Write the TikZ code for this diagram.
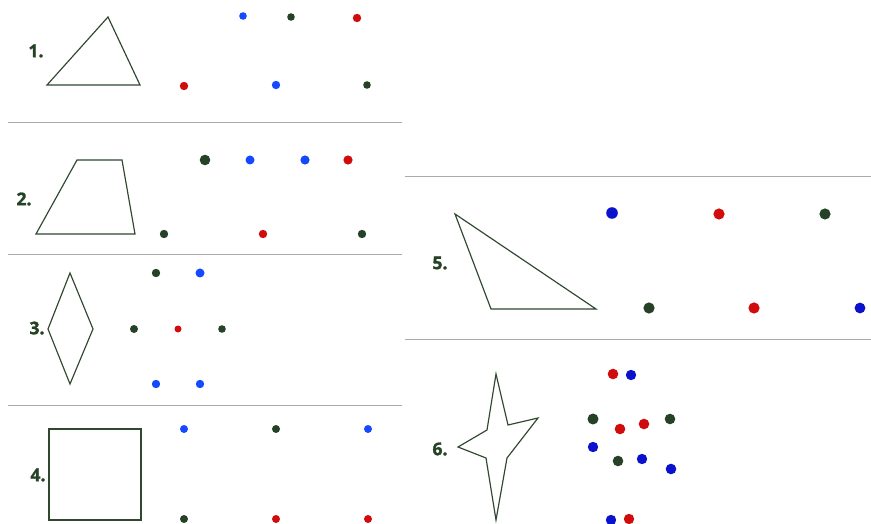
\documentclass[tikz,border=0pt]{standalone}
\usepackage{fontspec}
\newfontfamily\numfont[BoldFeatures={FakeBold=1.6}]{Open Sans}
\definecolor{dkgreen}{RGB}{38,66,38}
\definecolor{brblue}{RGB}{22,72,255}
\definecolor{dkblue}{RGB}{10,18,205}
\definecolor{dotred}{RGB}{208,12,12}
\definecolor{rule}{RGB}{170,170,170}
\begin{document}
\begin{tikzpicture}[x=0.3mm,y=-0.3mm,
 num/.style={font=\numfont\bfseries\fontsize{15}{15}\selectfont,text=dkgreen,inner sep=0pt},
 outline/.style={draw=dkgreen!90!gray,line width=1pt,line join=miter},
 sep/.style={draw=rule,line width=0.8pt},
 g/.style={fill=dkgreen}, b/.style={fill=brblue}, bb/.style={fill=dkblue}, r/.style={fill=dotred}]
\useasboundingbox (0,0) rectangle (871,524);
% separators
\draw[sep] (8,122) -- (402,122);
\draw[sep] (8,254) -- (402,254);
\draw[sep] (8,405) -- (402,405);
\draw[sep] (405,176) -- (871,176);
\draw[sep] (405,339) -- (871,339);
% numbers
\node[num] (n1) at (36,51) {1.};
\node[num] (n2) at (24,199) {2.};
\node[num] (n3) at (37,328) {3.};
\node[num] (n4) at (38,475) {4.};
\node[num] (n5) at (440,263) {5.};
\node[num] (n6) at (440,449) {6.};
% figures
\draw[outline] (47,85) -- (108,17) -- (140,85) -- cycle;
\draw[outline] (36,234) -- (77,160) -- (122,160) -- (135,234) -- cycle;
\draw[outline] (70,273) -- (93,329) -- (70,384) -- (48,329) -- cycle;
\draw[outline] (49,429) rectangle (141,520);
\draw[outline] (455,214) -- (596,309) -- (491,309) -- cycle;
\draw[outline] (496,374) -- (508,425) -- (538,418) -- (507,458) -- (496,520)
 -- (486,458) -- (458,447) -- (487,430) -- cycle;
% dots 1
\fill[b] (243,16) circle (3.8); \fill[g] (291,17) circle (3.8); \fill[r] (357,18) circle (4.2);
\fill[r] (184,86) circle (4.2); \fill[b] (276,85) circle (4.2); \fill[g] (367,85) circle (3.8);
% dots 2
\fill[g] (205,160) circle (5.3); \fill[b] (250,160) circle (4.5); \fill[b] (305,160) circle (4.6); \fill[r] (348,160) circle (4.6);
\fill[g] (164,234) circle (4.2); \fill[r] (263,234) circle (4.2); \fill[g] (362,234) circle (4.2);
% dots 3
\fill[g] (156,273) circle (4.2); \fill[b] (200,273) circle (4.5);
\fill[g] (134,329) circle (4); \fill[r] (178,329) circle (3.5); \fill[g] (222,329) circle (3.8);
\fill[b] (156,384) circle (4.2); \fill[b] (200,384) circle (4.2);
% dots 4
\fill[b] (184,429) circle (4); \fill[g] (276,429) circle (4); \fill[b] (368,429) circle (4);
\fill[g] (184,519) circle (4); \fill[r] (276,519) circle (4); \fill[r] (368,519) circle (4);
% dots 5
\fill[bb] (612,213) circle (5.8); \fill[r] (719,214) circle (5.6); \fill[g] (825,214) circle (5.6);
\fill[g] (649,308) circle (5.6); \fill[r] (754,308) circle (5.6); \fill[bb] (860,308) circle (5.4);
% dots 6
\fill[r] (613,374) circle (5.3); \fill[bb] (631,375) circle (5.2);
\fill[g] (593,419) circle (5.5); \fill[r] (620,429) circle (5.3); \fill[r] (644,424) circle (5.3); \fill[g] (670,419) circle (5.3);
\fill[bb] (593,447) circle (5.2); \fill[g] (618,461) circle (5.3); \fill[bb] (642,459) circle (5.2); \fill[bb] (671,469) circle (5.3);
\fill[bb] (611,520) circle (5.2); \fill[r] (629,519) circle (5.2);
\end{tikzpicture}
\end{document}
